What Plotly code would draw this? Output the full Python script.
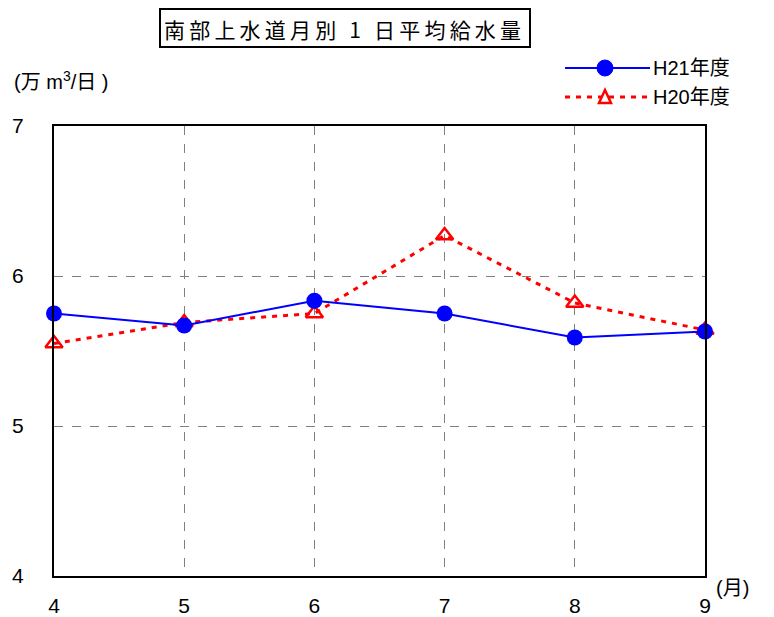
import plotly.graph_objects as go

months = [4, 5, 6, 7, 8, 9]
h21 = [5.75, 5.67, 5.835, 5.75, 5.59, 5.63]
h20 = [5.55, 5.69, 5.75, 6.27, 5.82, 5.64]
y_ticks = [4, 5, 6, 7]
title_text = "南部上水道月別 1 日平均給水量"
series_names = ["H21年度", "H20年度"]

FONT = "Liberation Sans Narrow, Liberation Sans, Noto Sans CJK JP, sans-serif"
CJK = "Noto Sans CJK JP, sans-serif"

# page offset (browser body margin)
OFF = 8
W, H = 774 - OFF, 617 - OFF
L, R, T, B = 54, 705, 126, 576  # reference pixel positions of plot area


def px(x):
    return (x - L) / (R - L)


def py(y):
    return (B - y) / (B - T)


fig = go.Figure()
fig.add_trace(go.Scatter(
    x=months, y=h20, mode="lines+markers", name=series_names[1],
    line=dict(color="#ff0000", width=3, dash="5px,6px"),
    marker=dict(symbol="triangle-up-open", size=15, color="#ff0000",
                line=dict(width=2.5, color="#ff0000")),
    showlegend=False, cliponaxis=False,
))
fig.add_trace(go.Scatter(
    x=months, y=h21, mode="lines+markers", name=series_names[0],
    line=dict(color="#0000ff", width=2),
    marker=dict(symbol="circle", size=16, color="#0000ff"),
    showlegend=False, cliponaxis=False,
))

shapes = []
annotations = []


def label(text, x, y, size, family=FONT, xanchor="left"):
    annotations.append(dict(text=text, xref="paper", yref="paper",
                            x=px(x), y=py(y), xanchor=xanchor, yanchor="middle",
                            showarrow=False,
                            font=dict(size=size, color="black", family=family)))


# title box
shapes.append(dict(type="rect", xref="paper", yref="paper",
                   x0=px(160), x1=px(530), y0=py(47), y1=py(9),
                   line=dict(color="black", width=2)))
label("\u2009".join(title_text), 342, 29, 21, CJK, "center")

# y-axis unit label
label("(万 m<sup>3</sup>/日 )", 12, 80, 20)
# x-axis unit label
label("(月)", 714, 588, 20)

# custom legend
shapes.append(dict(type="line", xref="paper", yref="paper",
                   x0=px(565), x1=px(650), y0=py(68), y1=py(68),
                   line=dict(color="#0000ff", width=2)))
shapes.append(dict(type="circle", xref="paper", yref="paper",
                   x0=px(597), x1=px(613), y0=py(76), y1=py(60),
                   fillcolor="#0000ff", line=dict(color="#0000ff", width=1)))
label(series_names[0], 651, 68, 20)
shapes.append(dict(type="line", xref="paper", yref="paper",
                   x0=px(565), x1=px(650), y0=py(97), y1=py(97),
                   line=dict(color="#ff0000", width=3, dash="5px,6px")))
shapes.append(dict(type="path", xref="paper", yref="paper",
                   path=f"M {px(599)},{py(103)} L {px(611)},{py(103)} L {px(605)},{py(90)} Z",
                   fillcolor="white", line=dict(color="#ff0000", width=2.5)))
label(series_names[1], 651, 97, 20)

fig.update_layout(
    width=W, height=H,
    margin=dict(l=L - OFF, r=774 - R, t=T - OFF, b=617 - B, pad=0, autoexpand=False),
    paper_bgcolor="white", plot_bgcolor="white",
    font=dict(family=FONT, size=20, color="black"),
    shapes=shapes, annotations=annotations,
    showlegend=False,
)
fig.update_xaxes(
    range=[4, 9], tickvals=months, ticktext=[str(m) for m in months],
    showgrid=True, gridcolor="#808080", griddash="dash", gridwidth=1,
    showline=True, linecolor="black", linewidth=2, mirror=True,
    ticks="", ticklabelstandoff=10, zeroline=False, automargin=False,
    tickfont=dict(size=21),
)
fig.update_yaxes(
    range=[4, 7], tickvals=y_ticks, ticktext=[str(v) for v in y_ticks],
    showgrid=True, gridcolor="#808080", griddash="dash", gridwidth=1,
    showline=True, linecolor="black", linewidth=2, mirror=True,
    ticks="", ticklabelstandoff=24, zeroline=False, automargin=False,
    tickfont=dict(size=21),
)

fig.write_html("out.html")
